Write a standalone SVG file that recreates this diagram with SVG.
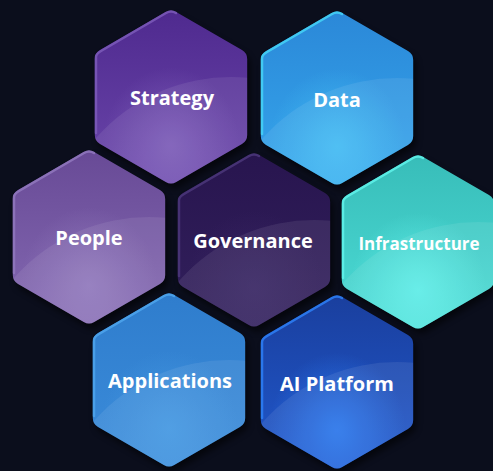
<svg xmlns="http://www.w3.org/2000/svg" xmlns:xlink="http://www.w3.org/1999/xlink" width="493" height="471" viewBox="0 0 493 471">
<style>
.lbl{font-family:"Open Sans","Noto Sans","Liberation Sans",sans-serif;font-weight:700;font-size:20px;fill:#ffffff;text-anchor:middle;dominant-baseline:central}
.shadow{fill:#000000;opacity:0.55}
.gloss{fill:#ffffff;opacity:0.08}
.edge{fill:none;stroke-width:2.5;stroke-linecap:round;stroke-linejoin:round;opacity:0.85}
</style>
<defs>
<path id="hex" d="M -5.2,-85 Q 0,-88 5.2,-85 L 71,-47 Q 76.2,-44 76.2,-38 L 76.2,38 Q 76.2,44 71,47 L 5.2,85 Q 0,88 -5.2,85 L -71,47 Q -76.2,44 -76.2,38 L -76.2,-38 Q -76.2,-44 -71,-47 Z"/>
<path id="tl" d="M -75,36 L -75,-40 Q -75,-43 -70,-46 L -5,-84 Q 0,-87 5,-84"/>
<clipPath id="hc"><use xlink:href="#hex"/></clipPath>
<filter id="blur" x="-20%" y="-20%" width="140%" height="140%"><feGaussianBlur stdDeviation="3"/></filter>
<linearGradient id="gS" x1="0" y1="0" x2="0" y2="1"><stop offset="0" stop-color="#4f2a8f"/><stop offset="1" stop-color="#6a46aa"/></linearGradient>
<linearGradient id="gD" x1="0" y1="0" x2="0" y2="1"><stop offset="0" stop-color="#2b88d8"/><stop offset="1" stop-color="#35a6ec"/></linearGradient>
<linearGradient id="gP" x1="0" y1="0" x2="0" y2="1"><stop offset="0" stop-color="#684a96"/><stop offset="1" stop-color="#8469b2"/></linearGradient>
<linearGradient id="gG" x1="0" y1="0" x2="0" y2="1"><stop offset="0" stop-color="#28154f"/><stop offset="1" stop-color="#32205c"/></linearGradient>
<linearGradient id="gI" x1="0" y1="0" x2="0" y2="1"><stop offset="0" stop-color="#38bdb9"/><stop offset="1" stop-color="#4cdcd6"/></linearGradient>
<linearGradient id="gA" x1="0" y1="0" x2="0" y2="1"><stop offset="0" stop-color="#2f7dcd"/><stop offset="1" stop-color="#3b8cda"/></linearGradient>
<linearGradient id="gX" x1="0" y1="0" x2="0" y2="1"><stop offset="0" stop-color="#1a3f9e"/><stop offset="1" stop-color="#2058cc"/></linearGradient>
<radialGradient id="rS" cx="0.5" cy="0.78" r="0.45"><stop offset="0" stop-color="#8a6cc4" stop-opacity="0.6"/><stop offset="1" stop-color="#8a6cc4" stop-opacity="0"/></radialGradient>
<radialGradient id="rD" cx="0.5" cy="0.78" r="0.45"><stop offset="0" stop-color="#48c6f7" stop-opacity="0.7"/><stop offset="1" stop-color="#48c6f7" stop-opacity="0"/></radialGradient>
<radialGradient id="rP" cx="0.5" cy="0.78" r="0.45"><stop offset="0" stop-color="#9c86c6" stop-opacity="0.6"/><stop offset="1" stop-color="#9c86c6" stop-opacity="0"/></radialGradient>
<radialGradient id="rG" cx="0.5" cy="0.78" r="0.45"><stop offset="0" stop-color="#402c6c" stop-opacity="0.5"/><stop offset="1" stop-color="#402c6c" stop-opacity="0"/></radialGradient>
<radialGradient id="rI" cx="0.5" cy="0.78" r="0.45"><stop offset="0" stop-color="#62f2ec" stop-opacity="0.8"/><stop offset="1" stop-color="#62f2ec" stop-opacity="0"/></radialGradient>
<radialGradient id="rA" cx="0.5" cy="0.78" r="0.45"><stop offset="0" stop-color="#4aa0e8" stop-opacity="0.6"/><stop offset="1" stop-color="#4aa0e8" stop-opacity="0"/></radialGradient>
<radialGradient id="rX" cx="0.5" cy="0.78" r="0.45"><stop offset="0" stop-color="#2c7cf2" stop-opacity="0.85"/><stop offset="1" stop-color="#2c7cf2" stop-opacity="0"/></radialGradient>
</defs>
<rect width="493" height="471" fill="#0b0e1c"/>
<g id="connectors"/>

<g id="strategy" transform="translate(171,97)">
<use xlink:href="#hex" class="shadow" transform="translate(3,5)" filter="url(#blur)"/>
<use xlink:href="#hex" fill="url(#gS)"/>
<use xlink:href="#hex" fill="url(#rS)"/>
<circle cx="60" cy="160" r="180" class="gloss" clip-path="url(#hc)"/>
<use xlink:href="#tl" class="edge" stroke="#7b5ab9"/>
<text class="lbl" x="1" y="0">Strategy</text>
</g>

<g id="data" transform="translate(337,98)">
<use xlink:href="#hex" class="shadow" transform="translate(3,5)" filter="url(#blur)"/>
<use xlink:href="#hex" fill="url(#gD)"/>
<use xlink:href="#hex" fill="url(#rD)"/>
<circle cx="60" cy="160" r="180" class="gloss" clip-path="url(#hc)"/>
<use xlink:href="#tl" class="edge" stroke="#44d4f6"/>
<text class="lbl" x="0" y="1">Data</text>
</g>

<g id="people" transform="translate(89,237)">
<use xlink:href="#hex" class="shadow" transform="translate(3,5)" filter="url(#blur)"/>
<use xlink:href="#hex" fill="url(#gP)"/>
<use xlink:href="#hex" fill="url(#rP)"/>
<circle cx="60" cy="160" r="180" class="gloss" clip-path="url(#hc)"/>
<use xlink:href="#tl" class="edge" stroke="#9078bd"/>
<text class="lbl" x="0" y="0">People</text>
</g>

<g id="governance" transform="translate(254,240)">
<use xlink:href="#hex" class="shadow" transform="translate(3,5)" filter="url(#blur)"/>
<use xlink:href="#hex" fill="url(#gG)"/>
<use xlink:href="#hex" fill="url(#rG)"/>
<circle cx="60" cy="160" r="180" class="gloss" clip-path="url(#hc)"/>
<use xlink:href="#tl" class="edge" stroke="#4b377a"/>
<text class="lbl" x="-1" y="0">Governance</text>
</g>

<g id="infrastructure" transform="translate(418,242)">
<use xlink:href="#hex" class="shadow" transform="translate(3,5)" filter="url(#blur)"/>
<use xlink:href="#hex" fill="url(#gI)"/>
<use xlink:href="#hex" fill="url(#rI)"/>
<circle cx="60" cy="160" r="180" class="gloss" clip-path="url(#hc)"/>
<use xlink:href="#tl" class="edge" stroke="#5ff2ea"/>
<text class="lbl" x="1" y="1" style="font-size:17px">Infrastructure</text>
</g>

<g id="applications" transform="translate(169,380)">
<use xlink:href="#hex" class="shadow" transform="translate(3,5)" filter="url(#blur)"/>
<use xlink:href="#hex" fill="url(#gA)"/>
<use xlink:href="#hex" fill="url(#rA)"/>
<circle cx="60" cy="160" r="180" class="gloss" clip-path="url(#hc)"/>
<use xlink:href="#tl" class="edge" stroke="#4ea4ec"/>
<text class="lbl" x="1" y="0">Applications</text>
</g>

<g id="ai-platform" transform="translate(337,382)">
<use xlink:href="#hex" class="shadow" transform="translate(3,5)" filter="url(#blur)"/>
<use xlink:href="#hex" fill="url(#gX)"/>
<use xlink:href="#hex" fill="url(#rX)"/>
<circle cx="60" cy="160" r="180" class="gloss" clip-path="url(#hc)"/>
<use xlink:href="#tl" class="edge" stroke="#2d7ff6"/>
<text class="lbl" x="0" y="1">AI Platform</text>
</g>
</svg>
